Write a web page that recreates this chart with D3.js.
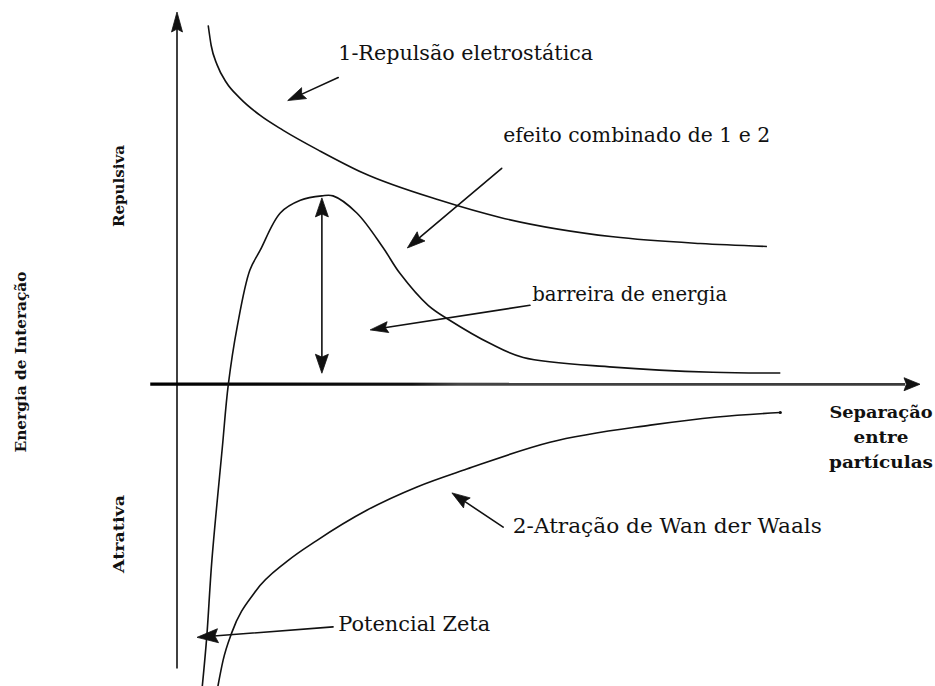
<!DOCTYPE html>
<html lang="pt">
<head>
<meta charset="utf-8">
<script src="https://cdn.jsdelivr.net/npm/d3@7"></script>
<style>
  html, body { margin: 0; padding: 0; background: #fff; }
  svg { display: block; }
  .note { font-family: "DejaVu Serif", serif; font-size: 20px; fill: #111; }
  .axis-label { font-family: "DejaVu Serif", serif; font-weight: bold; font-size: 15px; fill: #111; }
</style>
</head>
<body>
<div id="chart"></div>
<script>
// Interaction energy vs. particle separation (DLVO picture), in arbitrary units.
// Electrostatic repulsion (curve 1)
const repulsionX = [0.42, 0.46, 0.54, 0.66, 0.85, 1.12, 1.43, 1.93, 2.50, 3.54, 4.35, 5.87, 7.04, 7.94];
const repulsionY = [4.82, 4.55, 4.29, 4.06, 3.84, 3.61, 3.41, 3.13, 2.84, 2.47, 2.24, 1.98, 1.89, 1.85];

// Combined effect of 1 and 2
const combinedX = [0.34, 0.40, 0.47, 0.61, 0.69, 0.81, 0.98, 1.12, 1.39, 1.66, 1.95, 2.10, 2.42, 2.77, 3.00, 3.38, 3.67, 4.21, 4.66, 5.87, 7.21, 8.12];
const combinedY = [-4.06, -3.40, -2.36, -0.85, -0.01, 0.77, 1.53, 1.80, 2.30, 2.47, 2.53, 2.53, 2.30, 1.84, 1.49, 1.06, 0.86, 0.55, 0.36, 0.23, 0.16, 0.15];

// Van der Waals attraction (curve 2)
const attractionX = [0.55, 0.62, 0.74, 1.05, 1.48, 1.88, 2.56, 3.23, 3.90, 5.02, 6.37, 7.27, 8.12];
const attractionY = [-4.06, -3.71, -3.33, -2.79, -2.38, -2.10, -1.69, -1.38, -1.14, -0.78, -0.55, -0.44, -0.38];

// Energy barrier: from zero up to the maximum of the combined curve
const barrierTop = d3.max(combinedY);
const barrierX = combinedX[combinedY.indexOf(barrierTop)];

// Axis labels
const yLabelTitle = "Energia de Interação";
const yLabelUp = "Repulsiva";
const yLabelDown = "Atrativa";
const xLabelLines = ["Separação", "entre", "partículas"];

// Callouts: text, where the text starts, and the arrow from -> to (data units)
const noteTexts = ["1-Repulsão eletrostática", "efeito combinado de 1 e 2", "barreira de energia", "2-Atração de Wan der Waals", "Potencial Zeta"];
const noteAt    = [[2.17, 4.35], [4.39, 3.25], [4.78, 1.12], [4.52, -2.00], [2.17, -3.31]];
const noteFrom  = [[2.17, 4.12], [4.37, 2.90], [4.75, 1.06], [4.39, -1.92], [2.10, -3.26]];
const noteTo    = [[1.49, 3.81], [3.10, 1.83], [2.60, 0.73], [3.70, -1.46], [0.27, -3.40]];

const W = 935, H = 686;
const x = d3.scaleLinear().domain([0, 10]).range([177, 920]);
const y = d3.scaleLinear().domain([-4, 5]).range([682, 12]);

const svg = d3.select("#chart").append("svg")
  .attr("width", W).attr("height", H)
  .attr("viewBox", [0, 0, W, H]);

const ink = "#111";

// x-axis stroke: solid on the left, greyer towards the arrow
const grad = svg.append("defs").append("linearGradient")
  .attr("id", "axisInk").attr("gradientUnits", "userSpaceOnUse")
  .attr("x1", x(-0.36)).attr("x2", x(10)).attr("y1", 0).attr("y2", 0);
grad.append("stop").attr("offset", "0%").attr("stop-color", "#000");
grad.append("stop").attr("offset", "34%").attr("stop-color", "#111");
grad.append("stop").attr("offset", "40%").attr("stop-color", "#444");
grad.append("stop").attr("offset", "100%").attr("stop-color", "#3a3a3a");

// Filled arrow head with its tip at (tx,ty), pointing away from (fx,fy)
function arrowHead(g, fx, fy, tx, ty, len, half) {
  const dx = tx - fx, dy = ty - fy, d = Math.hypot(dx, dy);
  const ux = dx / d, uy = dy / d;
  const bx = tx - ux * len, by = ty - uy * len;
  g.append("path")
    .attr("d", `M${tx},${ty}L${bx - uy * half},${by + ux * half}L${bx + ux * len * 0.15},${by + uy * len * 0.15}L${bx + uy * half},${by - ux * half}Z`)
    .attr("fill", ink).attr("stroke", ink).attr("stroke-width", 0.8).attr("stroke-linejoin", "round");
  return [bx + ux * len * 0.2, by + uy * len * 0.2];
}

function arrow(g, fx, fy, tx, ty, len, half, width) {
  const [bx, by] = arrowHead(g, fx, fy, tx, ty, len, half);
  g.append("line")
    .attr("x1", fx).attr("y1", fy).attr("x2", bx).attr("y2", by)
    .attr("stroke", ink).attr("stroke-width", width || 1.6).attr("stroke-linecap", "round");
}

// Axes
const axes = svg.append("g");
axes.append("line")
  .attr("x1", x(0)).attr("x2", x(0))
  .attr("y1", y(-3.82)).attr("y2", y(4.8))
  .attr("stroke", ink).attr("stroke-width", 1.6);
arrowHead(axes, x(0), y(0), x(0), y(5), 20, 5.5);

axes.append("line")
  .attr("x1", x(-0.36)).attr("x2", x(9.8))
  .attr("y1", y(0)).attr("y2", y(0) + 0.01)
  .attr("stroke", "url(#axisInk)").attr("stroke-width", 3.2);
arrowHead(axes, x(0), y(0), x(10), y(0), 16, 6.5);

// Curves: the two single effects are smooth monotone curves, the combined one follows its points
const smooth = d3.line().curve(d3.curveMonotoneX);
const traced = d3.line().curve(d3.curveCatmullRom.alpha(0.5));
const curves = svg.append("g").attr("fill", "none").attr("stroke", ink).attr("stroke-width", 1.6);
[[repulsionX, repulsionY, smooth], [combinedX, combinedY, traced], [attractionX, attractionY, smooth]].forEach(([xs, ys, gen]) => {
  curves.append("path").attr("d", gen(xs.map((v, i) => [x(v), y(ys[i])])));
});
// small end dot on the attraction curve
svg.append("circle")
  .attr("cx", x(attractionX[attractionX.length - 1])).attr("cy", y(attractionY[attractionY.length - 1]))
  .attr("r", 1.6).attr("fill", ink);

// Energy barrier double arrow
const bar = svg.append("g");
const bx = x(barrierX);
const yTop = y(barrierTop) + 2, yBot = y(0) - 11;
bar.append("line").attr("x1", bx).attr("x2", bx).attr("y1", yTop + 10).attr("y2", yBot - 10)
  .attr("stroke", ink).attr("stroke-width", 1.6);
arrowHead(bar, bx, yBot, bx, yTop, 19, 6.5);
arrowHead(bar, bx, yTop, bx, yBot, 19, 6.5);

// Callouts
const notes = svg.append("g");
const headLen = [18, 18, 18, 18, 21];
const headHalf = [6, 6, 5.5, 6, 7];
const noteWidth = [255, 267, 195, 309, 152];
noteTexts.forEach((t, i) => {
  const [fx, fy] = noteFrom[i], [tx, ty] = noteTo[i];
  arrow(notes, x(fx), y(fy), x(tx), y(ty), headLen[i], headHalf[i], 1.6);
  notes.append("text").attr("class", "note")
    .attr("x", x(noteAt[i][0])).attr("y", y(noteAt[i][1]))
    .attr("textLength", noteWidth[i]).attr("lengthAdjust", "spacingAndGlyphs")
    .text(t);
});

// Axis labels
const labels = svg.append("g");
labels.append("text").attr("class", "axis-label")
  .attr("transform", `translate(26,362) rotate(-90)`)
  .attr("text-anchor", "middle")
  .attr("textLength", 181).attr("lengthAdjust", "spacingAndGlyphs").text(yLabelTitle);
labels.append("text").attr("class", "axis-label")
  .attr("transform", `translate(124,186) rotate(-90)`)
  .attr("text-anchor", "middle")
  .attr("textLength", 82).attr("lengthAdjust", "spacingAndGlyphs").text(yLabelUp);
labels.append("text").attr("class", "axis-label")
  .attr("transform", `translate(124,534) rotate(-90)`)
  .attr("text-anchor", "middle")
  .attr("textLength", 78).attr("lengthAdjust", "spacingAndGlyphs").text(yLabelDown);
const xLabelWidth = [103, 55, 104];
xLabelLines.forEach((t, i) => {
  labels.append("text").attr("class", "axis-label")
    .style("font-size", "16px")
    .attr("x", 881).attr("y", 418 + i * 25)
    .attr("text-anchor", "middle")
    .attr("textLength", xLabelWidth[i]).attr("lengthAdjust", "spacingAndGlyphs")
    .text(t);
});
</script>
</body>
</html>
